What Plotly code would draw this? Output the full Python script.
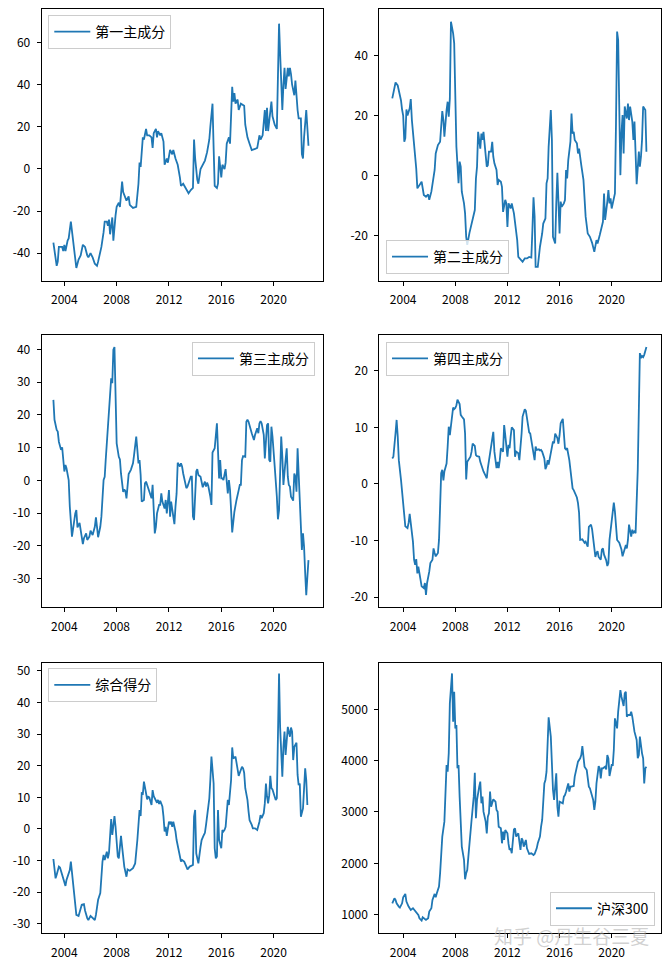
import plotly.graph_objects as go

# ---------------- data ----------------
pc1_dates = ["2003-03","2003-06","2003-07","2003-08","2003-11","2003-12","2004-01","2004-02","2004-04","2004-05",
             "2004-07","2004-09","2004-11","2004-12","2005-02","2005-04","2005-06","2005-08","2005-10","2005-11",
             "2006-01","2006-03","2006-05","2006-07","2006-08","2006-10","2006-11","2007-01","2007-02","2007-04",
             "2007-05","2007-06","2007-07","2007-09","2007-10","2007-12","2008-01","2008-03","2008-04","2008-06",
             "2008-07","2008-10","2008-12","2009-01","2009-04","2009-07","2009-09","2009-10","2009-11","2010-01",
             "2010-02","2010-04","2010-05","2010-07","2010-09","2010-10","2010-11","2011-01","2011-02","2011-03",
             "2011-05","2011-06","2011-08","2011-09","2011-11","2011-12","2012-02","2012-04","2012-05","2012-07",
             "2012-09","2012-11","2012-12","2013-02","2013-04","2013-07","2013-09","2013-11","2013-12","2014-01",
             "2014-03","2014-04","2014-06","2014-08","2014-10","2014-12","2015-02","2015-03","2015-05","2015-06",
             "2015-07","2015-09","2015-10","2015-11","2015-12","2016-01","2016-02","2016-04","2016-05","2016-06",
             "2016-08","2016-09","2016-11","2016-12","2017-01","2017-02","2017-04","2017-05","2017-07","2017-10",
             "2017-11","2018-01","2018-03","2018-05","2018-08","2018-10","2018-12","2019-01","2019-03","2019-05",
             "2019-06","2019-07","2019-08","2019-09","2019-11","2019-12","2020-02","2020-04","2020-06","2020-07",
             "2020-09","2020-10","2020-11","2020-12","2021-02","2021-03","2021-04","2021-05","2021-06","2021-08",
             "2021-09","2021-11","2021-12","2022-02","2022-03","2022-04","2022-05","2022-07","2022-08","2022-09"]
pc1_values = [-35,-46,-44,-37,-37,-39,-36,-39,-34,-33,
              -25,-34,-44,-47,-43,-41,-36,-37,-41,-42,
              -40,-42,-45,-46,-44,-39,-37,-30,-25,-25,
              -27,-24,-31,-23,-34,-22,-18,-16,-18,-6,
              -11,-15,-13,-17,-18.5,-18,-7,3,1,15,
              14,19,16,16,15,10,17,19,15,18,
              16,17,13,2,5,3,9,7,9,5,
              2,-4,-8,-7,-9,-11.5,-10,-9,14,5,
              -5,-7,0,2,4,8,14,20,31,10,
              -8,-9,-7,6,-1,-4,2,0,3,12,
              15,12,39,32,36,31,33,28,31,30,
              21,15,12,9,9.5,10,16,14,16,28,
              18,29,18,22,32,25,21,19,69,55,
              28,40,48,38,48,44,48,45,40,35,
              42,28,24,24,7,5,15,28,20,11]

pc2_dates = ["2003-03","2003-05","2003-06","2003-08","2003-09","2003-11","2003-12","2004-01","2004-02","2004-03",
             "2004-04","2004-05","2004-07","2004-08","2004-09","2004-11","2005-01","2005-02","2005-04","2005-06",
             "2005-08","2005-10","2005-12","2006-01","2006-03","2006-05","2006-06","2006-07","2006-09","2006-11",
             "2006-12","2007-01","2007-02","2007-03","2007-05","2007-06","2007-07","2007-08","2007-09","2007-11",
             "2007-12","2008-01","2008-02","2008-04","2008-05","2008-06","2008-07","2008-09","2008-10","2008-11",
             "2008-12","2009-02","2009-05","2009-07","2009-08","2009-09","2009-10","2009-12","2010-01","2010-02",
             "2010-03","2010-05","2010-06","2010-07","2010-08","2010-10","2010-11","2010-12","2011-01","2011-03",
             "2011-04","2011-05","2011-07","2011-08","2011-09","2011-11","2011-12","2012-01","2012-02","2012-04",
             "2012-05","2012-07","2012-08","2012-10","2012-11","2013-01","2013-03","2013-05","2013-07","2013-09",
             "2013-11","2013-12","2014-01","2014-02","2014-03","2014-05","2014-07","2014-09","2014-10","2014-12",
             "2015-01","2015-02","2015-03","2015-05","2015-06","2015-07","2015-09","2015-10","2015-11","2015-12",
             "2016-01","2016-02","2016-03","2016-05","2016-06","2016-07","2016-08","2016-09","2016-11","2016-12",
             "2017-01","2017-02","2017-03","2017-05","2017-06","2017-07","2017-08","2017-09","2017-11","2017-12",
             "2018-01","2018-03","2018-05","2018-07","2018-09","2018-11","2018-12","2019-02","2019-03","2019-05",
             "2019-06","2019-07","2019-09","2019-10","2019-11","2019-12","2020-01","2020-03","2020-04","2020-05",
             "2020-06","2020-07","2020-08","2020-09","2020-10","2020-11","2020-12","2021-01","2021-03","2021-04",
             "2021-05","2021-06","2021-08","2021-09","2021-10","2021-11","2021-12","2022-02","2022-03","2022-04",
             "2022-05","2022-06","2022-08","2022-09"]
pc2_values = [25.7,29,31,30,28.5,25,22,20,11.3,12.5,
              22,20,22.4,25.5,18.5,10.8,2.4,-4.2,-3,-2,
              -6.4,-7,-6.2,-8,-5.3,-1.4,1.9,7.4,10.2,11.3,
              16.3,21.5,18.5,13,21.8,24.6,19.6,25.7,51.2,47.3,
              44,25,9.6,-2.5,4.7,3,-5.3,-9.2,-12.5,-20.3,
              -23,-19,-14.7,-11.4,-1,3,14.6,9,14,11.9,
              14.6,6.3,3,3.5,8,8,11.3,6.3,4.1,1.9,
              -3.1,-1.4,-2,-3.7,-12,-8,-9.2,-17,-9.2,-10.9,
              -9.2,-12.5,-15.3,-21.4,-27,-28,-28.6,-27.5,-27.5,-27,
              -27.2,-18,-7.2,-13.6,-30.3,-30.3,-23.6,-19.2,-15.9,-14.2,
              -2.5,-0.9,9.6,21.8,11.9,-20.3,-22.5,-9.2,1,-8.6,
              -19.2,-8.6,-10.3,-9.2,-8.1,1.9,-0.9,5.2,11.3,20.7,
              14,14.6,11.9,10.8,7.4,9,6.9,3.5,-1.4,-7,
              -13.6,-19.2,-20.3,-22.3,-25.3,-21.4,-22.5,-19.7,-18,-15.3,
              -5.9,-14.7,-8.6,-4.8,-9.2,-7.5,-10.9,-7,-5.9,17.4,
              47.9,45.1,18.5,0.2,14,20.2,7.4,23,19,24,
              18.5,23,18,11.9,18,7.4,-2.8,8,3,6.3,
              11.9,23,21.8,8]

pc3_dates = ["2003-03","2003-04","2003-06","2003-07","2003-08","2003-10","2003-11","2004-01","2004-02","2004-03",
             "2004-05","2004-06","2004-08","2004-09","2004-11","2004-12","2005-01","2005-03","2005-04","2005-06",
             "2005-07","2005-09","2005-10","2005-12","2006-01","2006-03","2006-05","2006-06","2006-07","2006-08",
             "2006-10","2006-11","2007-01","2007-02","2007-03","2007-04","2007-06","2007-08","2007-09","2007-10",
             "2007-11","2007-12","2008-01","2008-03","2008-04","2008-05","2008-07","2008-08","2008-09","2008-10",
             "2008-11","2008-12","2009-02","2009-04","2009-05","2009-07","2009-08","2009-09","2009-10","2009-11",
             "2009-12","2010-02","2010-03","2010-04","2010-06","2010-07","2010-09","2010-10","2010-11","2010-12",
             "2011-01","2011-02","2011-04","2011-05","2011-06","2011-07","2011-09","2011-10","2011-11","2011-12",
             "2012-01","2012-02","2012-03","2012-05","2012-06","2012-07","2012-08","2012-09","2012-11","2012-12",
             "2013-01","2013-02","2013-03","2013-05","2013-06","2013-08","2013-09","2013-10","2013-11","2013-12",
             "2014-02","2014-03","2014-04","2014-06","2014-07","2014-08","2014-10","2014-11","2014-12","2015-01",
             "2015-03","2015-04","2015-05","2015-06","2015-07","2015-09","2015-10","2015-11","2015-12","2016-01",
             "2016-02","2016-03","2016-05","2016-06","2016-07","2016-08","2016-09","2016-10","2016-11","2017-01",
             "2017-02","2017-03","2017-05","2017-06","2017-07","2017-08","2017-09","2017-11","2017-12","2018-01",
             "2018-02","2018-04","2018-05","2018-07","2018-08","2018-10","2018-11","2018-12","2019-01","2019-02",
             "2019-04","2019-05","2019-07","2019-08","2019-09","2019-10","2019-11","2019-12","2020-01","2020-02",
             "2020-04","2020-05","2020-06","2020-07","2020-08","2020-09","2020-10","2020-12","2021-01","2021-02",
             "2021-03","2021-04","2021-05","2021-07","2021-08","2021-09","2021-10","2021-11","2021-12","2022-01",
             "2022-02","2022-03","2022-04","2022-05","2022-06","2022-07","2022-08","2022-09"]
pc3_values = [24.6,18.5,15.4,14.9,11.8,9.3,10.1,2.7,4.7,3.7,
              0.1,-8,-17.2,-14.7,-10.1,-9.1,-14.4,-13,-15.2,-19.5,
              -17.7,-16.2,-18.2,-17.2,-15.4,-16.7,-14.2,-11.3,-14.2,-17.4,
              -14.2,-11.1,0.1,1.1,6.2,11.3,21.5,31.2,29.7,39.9,
              40.7,26.6,11.3,7.2,6.4,2.1,-3.5,-2.8,-3.3,-5.5,
              -2.4,1.9,3.2,5.2,7.7,13.4,9.3,5.2,6.2,1.6,
              -6.5,-6,-0.9,-0.4,-2.4,-3.5,-5.5,-1.4,-8,-16.2,
              -14.2,-10.1,-7.5,-7.5,-4,-6.5,-8.6,-6,-10.1,-6,
              -3,-11.1,-6.5,-11.1,-13.4,-8,-4,5.4,4.2,5.2,
              4.2,2.1,0.3,-2.4,-1.9,0.1,1.1,1.1,-11.1,-12.1,
              2.7,3.4,1.6,1.1,-0.9,-2.1,-0.4,-1.9,-0.7,-1.6,
              -5,-7.5,8.5,9.3,9.8,17.4,10.3,0.6,6.2,0.6,
              0.6,0.1,3.4,-0.9,-4,0.1,-3,-9.1,-15.9,-9.6,
              -7.5,-6,-3,-1.4,-1.4,6.2,7.4,7.2,17.9,18.5,
              17.9,14.9,14.4,12.3,13.9,15.9,14.4,17.4,18.1,17.4,
              13.9,6.7,16.9,17.4,6.2,5.7,16.4,13.4,7.2,4.2,
              -5,-11.9,-9.1,0.6,13.4,7.2,-1.4,6.2,9.8,1.1,
              -1.4,-1.9,-5,-6.2,2.1,1.1,-3.5,9.8,2.7,-6,
              -10.1,-21.3,-16.2,-20.3,-28.4,-35.1,-29.5,-24.4]

pc4_dates = ["2003-03","2003-04","2003-06","2003-07","2003-08","2003-09","2003-11","2003-12","2004-01","2004-02",
             "2004-03","2004-05","2004-06","2004-07","2004-09","2004-10","2004-11","2004-12","2005-01","2005-02",
             "2005-03","2005-05","2005-06","2005-08","2005-09","2005-10","2005-11","2006-01","2006-02","2006-04",
             "2006-05","2006-06","2006-07","2006-09","2006-10","2006-11","2006-12","2007-01","2007-02","2007-03",
             "2007-05","2007-06","2007-07","2007-08","2007-09","2007-11","2007-12","2008-01","2008-02","2008-03",
             "2008-05","2008-06","2008-07","2008-09","2008-10","2008-11","2008-12","2009-01","2009-03","2009-04",
             "2009-05","2009-07","2009-08","2009-09","2009-11","2009-12","2010-01","2010-02","2010-03","2010-05",
             "2010-06","2010-07","2010-09","2010-10","2010-11","2010-12","2011-01","2011-03","2011-04","2011-05",
             "2011-06","2011-07","2011-09","2011-10","2011-11","2012-01","2012-02","2012-03","2012-04","2012-05",
             "2012-07","2012-08","2012-09","2012-11","2012-12","2013-01","2013-02","2013-03","2013-05","2013-06",
             "2013-07","2013-09","2013-10","2013-11","2013-12","2014-01","2014-02","2014-03","2014-04","2014-06",
             "2014-07","2014-08","2014-09","2014-11","2014-12","2015-01","2015-02","2015-03","2015-05","2015-06",
             "2015-07","2015-08","2015-09","2015-11","2015-12","2016-01","2016-02","2016-04","2016-05","2016-06",
             "2016-07","2016-08","2016-10","2016-11","2016-12","2017-01","2017-02","2017-04","2017-05","2017-06",
             "2017-07","2017-08","2017-10","2017-11","2017-12","2018-01","2018-03","2018-04","2018-06","2018-07",
             "2018-09","2018-10","2018-11","2018-12","2019-01","2019-03","2019-04","2019-05","2019-06","2019-08",
             "2019-09","2019-10","2019-11","2019-12","2020-02","2020-03","2020-04","2020-05","2020-06","2020-08",
             "2020-09","2020-10","2020-11","2020-12","2021-02","2021-03","2021-04","2021-05","2021-07","2021-08",
             "2021-09","2021-10","2021-11","2022-01","2022-02","2022-03","2022-04","2022-05","2022-06","2022-07",
             "2022-09"]
pc4_values = [4.5,4.8,9,11.3,8.4,4.2,0.7,-1.6,-2.8,-5.8,
              -7.5,-7.8,-6.9,-5.3,-8.8,-10.2,-13.4,-14.3,-13.3,-15.8,
              -14.6,-16.5,-18.1,-18.4,-17.5,-19.6,-17.5,-15.5,-14,-13.4,
              -11.4,-12.2,-12.8,-12.2,-9.9,-4,1.9,2.5,0.6,2.2,
              3.6,6.6,10.1,8.6,10.7,13.5,13.2,13.4,13.9,14.9,
              14.1,12.2,11.9,11.4,8.9,0.8,3.9,4.2,4.8,5.7,
              7.1,6.7,5.1,4.9,4.8,3.9,3.2,2.4,2.2,1.4,
              1,2.8,5.1,6.6,8.1,9.2,5.7,2.8,3.9,2.8,
              4.2,6.3,5.7,10.4,8.6,4.8,6.9,6.3,8.4,10,
              9.5,4.8,5.7,5.4,4.2,6.3,8.9,11.9,13.2,12.9,
              11.3,9.1,8.9,7.8,6.6,4.9,4.2,6.6,6,6.1,
              5.9,6,5.7,4.5,2.6,3.1,4.2,3.4,5.3,6.9,
              7.5,7.2,8.9,8.1,7.1,8.6,10.7,11.5,9.2,6.3,
              6.1,6.3,4.2,2.5,0.7,-0.8,-1.1,-1.9,-2.4,-3.4,
              -5.1,-9.9,-9.8,-10.1,-10.4,-10.2,-11.1,-7.6,-7.2,-8,
              -11.1,-12.9,-12.2,-11.9,-12.9,-13.4,-11.6,-11.4,-12.5,-13.5,
              -14.5,-14,-9.9,-8.1,-5.2,-3.3,-4.9,-7.5,-9.9,-10.4,
              -11.1,-11.6,-12.8,-12.2,-10.8,-11.4,-9.9,-7.2,-9.3,-8.1,
              -8.6,-8.4,-8.7,2.5,14.5,23.1,22.2,22.6,22.4,22.8,
              24.2]

score_dates = ["2003-03","2003-05","2003-06","2003-08","2003-09","2003-11","2003-12","2004-01","2004-02","2004-03",
               "2004-05","2004-06","2004-07","2004-08","2004-09","2004-11","2004-12","2005-02","2005-03","2005-05",
               "2005-07","2005-08","2005-10","2005-11","2006-01","2006-03","2006-05","2006-06","2006-07","2006-08",
               "2006-10","2006-11","2006-12","2007-01","2007-02","2007-04","2007-05","2007-06","2007-07","2007-08",
               "2007-09","2007-11","2007-12","2008-01","2008-02","2008-03","2008-05","2008-06","2008-07","2008-08",
               "2008-10","2008-11","2009-01","2009-02","2009-04","2009-06","2009-07","2009-08","2009-10","2009-11",
               "2009-12","2010-01","2010-02","2010-04","2010-05","2010-06","2010-07","2010-09","2010-10","2010-11",
               "2010-12","2011-02","2011-03","2011-04","2011-05","2011-07","2011-08","2011-09","2011-10","2011-11",
               "2012-01","2012-02","2012-03","2012-04","2012-05","2012-07","2012-08","2012-10","2012-12","2013-01",
               "2013-03","2013-05","2013-06","2013-08","2013-10","2013-11","2013-12","2014-01","2014-02","2014-03",
               "2014-04","2014-06","2014-07","2014-09","2014-10","2014-11","2015-01","2015-02","2015-03","2015-04",
               "2015-06","2015-07","2015-08","2015-09","2015-10","2015-11","2016-01","2016-02","2016-03","2016-04",
               "2016-05","2016-07","2016-08","2016-09","2016-10","2016-11","2016-12","2017-02","2017-03","2017-04",
               "2017-05","2017-06","2017-08","2017-09","2017-10","2017-11","2018-01","2018-02","2018-03","2018-05",
               "2018-06","2018-08","2018-10","2018-12","2019-01","2019-02","2019-04","2019-05","2019-06","2019-07",
               "2019-08","2019-09","2019-10","2019-11","2019-12","2020-02","2020-03","2020-04","2020-06","2020-07",
               "2020-09","2020-10","2020-11","2020-12","2021-01","2021-02","2021-04","2021-05","2021-06","2021-07",
               "2021-08","2021-10","2021-11","2021-12","2022-01","2022-02","2022-04","2022-05","2022-06","2022-07",
               "2022-08"]
score_values = [-9.5,-15.6,-14.5,-11.9,-12.2,-14.5,-15.6,-16.1,-18,-16.1,
                -13.5,-13,-10.3,-14,-18.8,-24.6,-27.2,-27.5,-26.1,-24,
                -23.8,-25.8,-28.2,-28.8,-27.5,-28.2,-28.8,-27.2,-24.6,-22.4,
                -20.3,-14,-10.3,-8.2,-9.8,-7.2,-9.3,-7.5,-3,3.1,
                -1.9,4.1,0.7,-5.1,-8.7,-9.3,-2.2,-5.6,-9.8,-11.9,
                -15.1,-12.8,-13.2,-13,-12.4,-10.9,-7.7,-3.5,6,4.1,
                11.3,11.1,15,11.1,9.4,10.2,10,7.6,12.3,10.4,
                9.7,8.3,9.2,7.9,8.9,7.1,3.9,-0.8,0.7,-2.2,
                2.3,1.8,2.3,0.7,2.3,-0.8,-3.5,-7.2,-10.3,-9.8,
                -10.3,-11.9,-12.8,-11.9,-11.4,-11.4,3.9,6,-7.7,-9.8,
                -10.9,-5.6,-3.5,-1.9,-1.2,1.3,6.5,9.7,15.5,22.9,
                14.4,-6.1,-9.3,-8.7,6,-3.5,-6.1,-0.3,-0.8,-0.3,
                0.7,9.2,7.6,11.3,15.5,25.8,22.3,22.9,21.3,19.2,
                16.8,17.8,19.7,19.2,17.8,12.9,9.2,5.5,2.8,1.3,
                0.2,0.2,-0.3,2.3,4.4,3.4,5,8.1,14.4,10.2,
                8.1,10.7,16.8,12.9,12.5,10.2,9.2,9.7,49.2,32.3,
                16.5,26,30.8,23.4,28.1,32.3,29.2,32.1,30.8,21.8,
                26,27.3,17.1,13.9,14.4,3.9,6.5,12.3,19.2,15.5,
                7.6]

hs300_dates = ["2003-03","2003-05","2003-06","2003-07","2003-09","2003-10","2003-12","2004-01","2004-03","2004-04",
               "2004-06","2004-08","2004-10","2004-12","2005-01","2005-03","2005-04","2005-06","2005-07","2005-09",
               "2005-10","2005-12","2006-01","2006-03","2006-04","2006-06","2006-07","2006-08","2006-10","2006-11",
               "2006-12","2007-01","2007-03","2007-04","2007-05","2007-06","2007-07","2007-08","2007-09","2007-10",
               "2007-11","2007-12","2008-01","2008-02","2008-03","2008-04","2008-05","2008-06","2008-07","2008-09",
               "2008-10","2008-11","2008-12","2009-01","2009-03","2009-04","2009-06","2009-07","2009-08","2009-09",
               "2009-11","2009-12","2010-01","2010-02","2010-03","2010-05","2010-06","2010-07","2010-08","2010-09",
               "2010-10","2010-11","2010-12","2011-02","2011-03","2011-04","2011-05","2011-07","2011-08","2011-09",
               "2011-10","2011-11","2012-01","2012-02","2012-03","2012-04","2012-05","2012-07","2012-08","2012-09",
               "2012-11","2012-12","2013-01","2013-02","2013-03","2013-04","2013-06","2013-07","2013-08","2013-09",
               "2013-11","2014-01","2014-02","2014-04","2014-05","2014-07","2014-08","2014-09","2014-11","2014-12",
               "2015-01","2015-02","2015-03","2015-05","2015-06","2015-07","2015-08","2015-09","2015-10","2015-11",
               "2015-12","2016-01","2016-03","2016-04","2016-05","2016-06","2016-07","2016-09","2016-10","2016-11",
               "2016-12","2017-02","2017-03","2017-04","2017-05","2017-06","2017-08","2017-09","2017-10","2017-11",
               "2017-12","2018-02","2018-03","2018-04","2018-05","2018-06","2018-08","2018-09","2018-10","2018-11",
               "2019-01","2019-02","2019-03","2019-04","2019-05","2019-07","2019-08","2019-09","2019-10","2019-11",
               "2020-01","2020-02","2020-03","2020-04","2020-06","2020-07","2020-08","2020-09","2020-10","2020-12",
               "2021-01","2021-02","2021-03","2021-04","2021-06","2021-07","2021-08","2021-09","2021-10","2021-12",
               "2022-01","2022-02","2022-03","2022-05","2022-06","2022-07","2022-08","2022-09"]
hs300_values = [1220,1318,1286,1220,1156,1136,1220,1338,1403,1254,
                1156,1091,1123,1078,1039,994,929,883,948,909,
                896,929,1058,1123,1286,1403,1338,1416,1545,1805,
                2195,2520,2812,3299,3916,3786,4143,5117,5507,5701,
                4760,5344,4630,4695,3851,3916,3299,2844,2325,2065,
                1688,1805,1870,2130,2520,2844,3299,3766,2877,3234,
                3494,3591,3169,3299,3007,2812,2584,2909,2974,3396,
                3104,3169,3247,3201,3039,3007,2714,2682,2390,2617,
                2455,2649,2584,2377,2260,2292,2195,2662,2682,2520,
                2584,2422,2260,2487,2455,2325,2455,2292,2208,2182,
                2195,2162,2182,2292,2390,2520,2714,2844,3558,3624,
                3786,4403,4844,4468,3883,3429,3234,3591,3753,3104,
                2909,3201,3182,3169,3299,3331,3396,3558,3396,3494,
                3494,3507,3689,3786,3883,3981,4046,4110,4286,4046,
                3883,3818,3656,3494,3461,3364,3234,3039,3201,3558,
                3896,3851,3656,3851,3851,3883,3831,4110,4046,3701,
                3916,3916,4208,4825,4630,4955,5182,5377,5247,5065,
                5312,5344,4857,4890,4890,4955,4857,4675,4565,4403,
                4046,4110,4468,4143,4046,3558,3851,3883]

series_names = ["第一主成分", "第二主成分", "第三主成分", "第四主成分", "综合得分", "沪深300"]
year_ticks = ["2004", "2008", "2012", "2016", "2020"]
y_tick_sets = [
    [-40, -20, 0, 20, 40, 60],
    [-20, 0, 20, 40],
    [-30, -20, -10, 0, 10, 20, 30, 40],
    [-20, -10, 0, 10, 20],
    [-30, -20, -10, 0, 10, 20, 30, 40, 50],
    [1000, 2000, 3000, 4000, 5000],
]

# ---------------- figure ----------------
# The page body keeps its default 8px margin, so the figure sits 8px in from
# the top-left corner; positions below are measured from the figure's corner.
all_dates = [pc1_dates, pc2_dates, pc3_dates, pc4_dates, score_dates, hs300_dates]
all_values = [pc1_values, pc2_values, pc3_values, pc4_values, score_values, hs300_values]

y_ranges = [[-53.2, 75.8], [-35.0, 55.3], [-38.8, 44.4], [-21.8, 26.3], [-33.0, 52.6], [636, 5909]]
x_domains = [[0.0515, 0.4809], [0.5677, 0.9985]]
y_domains = [[0.7138, 0.9986], [0.3718, 0.6572], [0.0301, 0.3137]]
x_ranges = [["2002-04-08", "2023-09-28"], ["2002-03-02", "2023-10-15"]]

legend_pos = [
    dict(x=0.0616, y=0.9927, xanchor="left", yanchor="top"),
    dict(x=0.5780, y=0.7212, xanchor="left", yanchor="bottom"),
    dict(x=0.4694, y=0.6502, xanchor="right", yanchor="top"),
    dict(x=0.5780, y=0.6502, xanchor="left", yanchor="top"),
    dict(x=0.0616, y=0.3079, xanchor="left", yanchor="top"),
    dict(x=0.9893, y=0.0381, xanchor="right", yanchor="bottom"),
]

FONT = "Noto Sans CJK SC"
BLUE = "#1f77b4"

fig = go.Figure()
layout = dict(
    width=654, height=954,
    margin=dict(l=0, r=0, t=0, b=0, autoexpand=False),
    paper_bgcolor="white", plot_bgcolor="white",
    font=dict(family=FONT, size=12, color="black"),
    showlegend=True,
)

for i in range(6):
    r, c = divmod(i, 2)
    n = i + 1
    xa = "x" if n == 1 else f"x{n}"
    ya = "y" if n == 1 else f"y{n}"
    lg = "legend" if n == 1 else f"legend{n}"
    fig.add_trace(go.Scatter(
        x=all_dates[i], y=all_values[i], mode="lines", name=series_names[i],
        line=dict(color=BLUE, width=1.8), xaxis=xa, yaxis=ya, legend=lg,
    ))
    common = dict(showline=True, mirror=True, linecolor="black", linewidth=1,
                  ticks="outside", ticklen=4, tickwidth=1, tickcolor="black",
                  showgrid=False, zeroline=False, automargin=False,
                  ticklabelstandoff=4,
                  tickfont=dict(family=FONT, size=12, color="black"))
    layout["xaxis" if n == 1 else f"xaxis{n}"] = dict(
        type="date", domain=x_domains[c], range=x_ranges[c], anchor=ya,
        tickvals=[f"{t}-01-01" for t in year_ticks], ticktext=year_ticks, **common)
    tv = y_tick_sets[i]
    layout["yaxis" if n == 1 else f"yaxis{n}"] = dict(
        domain=y_domains[r], range=y_ranges[i], anchor=xa,
        tickvals=tv, ticktext=[str(v) for v in tv], **common)
    layout[lg] = dict(
        **legend_pos[i], xref="paper", yref="paper", itemwidth=36,
        bgcolor="rgba(255,255,255,0.8)", bordercolor="#cccccc", borderwidth=1,
        font=dict(family=FONT, size=14, color="black"),
    )

layout["annotations"] = [dict(
    text="知乎 @丹生谷三夏", xref="paper", yref="paper", x=0.8616, y=0.0283,
    xanchor="center", yanchor="middle", showarrow=False,
    font=dict(family=FONT, size=19, color="rgba(170,170,170,0.55)"),
)]

fig.update_layout(**layout)
fig.write_html("out.html")
